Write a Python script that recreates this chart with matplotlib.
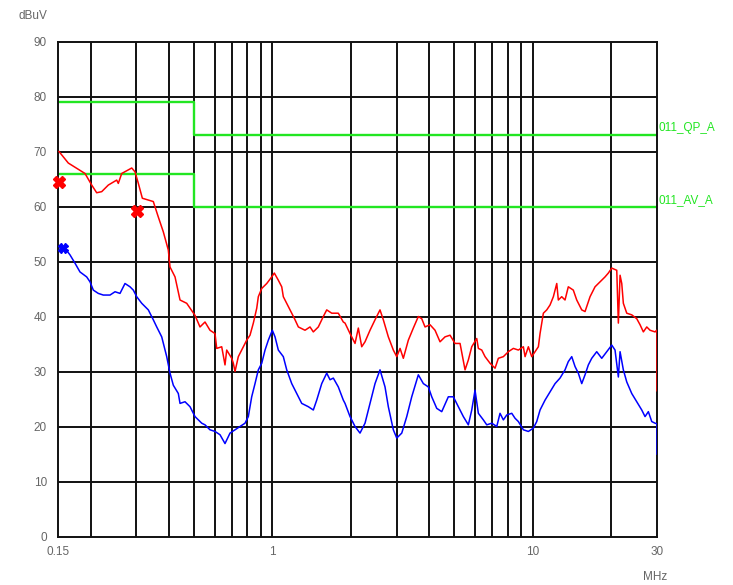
import matplotlib
matplotlib.use('Agg')
import matplotlib.pyplot as plt
from matplotlib.ticker import FixedLocator, NullLocator

plt.rcParams.update({
    'font.family': ['Liberation Sans', 'DejaVu Sans'],
    'font.size': 8.5,
})

# ---------- data (MHz, dBuV) ----------
qp_freq = [0.1513, 0.1643, 0.1905, 0.2021, 0.2112, 0.2208, 0.2341, 0.2521, 0.2557, 0.2635,
           0.2880, 0.2965, 0.3053, 0.3163, 0.3485, 0.3642, 0.3807, 0.3979, 0.4040, 0.4223,
           0.4414, 0.4683, 0.5040, 0.5267, 0.5506, 0.5754, 0.6015, 0.6106, 0.6382, 0.6571,
           0.6671, 0.6972, 0.7073, 0.7179, 0.7392, 0.7617, 0.7962, 0.8198, 0.8442, 0.8700,
           0.8823, 0.9094, 0.9506, 0.9933, 1.0165, 1.0530, 1.0853, 1.1006, 1.1343, 1.1856,
           1.2208, 1.2571, 1.3335, 1.3938, 1.4351, 1.5000, 1.5678, 1.6158, 1.6889, 1.7900,
           1.8711, 1.8998, 1.9856, 2.0754, 2.1369, 2.2020, 2.2671, 2.3697, 2.4770, 2.5887,
           2.6657, 2.7863, 2.9124, 3.0017, 3.0909, 3.1818, 3.3257, 3.4761, 3.6333, 3.7439,
           3.8550, 4.0293, 4.2117, 4.4022, 4.6013, 4.8095, 5.0270, 5.2544, 5.4921, 5.6550,
           5.8275, 6.0909, 6.1785, 6.3663, 6.5550, 6.8514, 7.1613, 7.3739, 7.7075, 8.0559,
           8.4203, 8.8011, 9.1998, 9.3387, 9.6158, 9.9080, 10.202, 10.505, 10.663, 10.980,
           11.314, 11.649, 11.995, 12.361, 12.534, 12.915, 13.298, 13.690, 14.309, 14.749,
           15.417, 15.875, 16.593, 17.342, 18.126, 18.946, 19.509, 20.106, 21.015, 21.314,
           21.639, 21.965, 22.277, 22.959, 23.994, 25.079, 25.824, 26.591, 27.401, 28.214,
           29.489, 29.93, 30.0, 30.0]
qp_level = [70.0, 67.9, 66.0, 63.9, 62.5, 62.7, 63.9, 64.8, 64.2, 66.0,
            67.0, 66.3, 64.2, 61.5, 60.9, 58.1, 55.4, 52.1, 49.0, 47.2,
            43.0, 42.4, 40.2, 38.1, 39.0, 37.5, 36.9, 34.2, 34.5, 31.2,
            33.9, 32.4, 31.5, 30.0, 32.7, 33.9, 35.7, 36.6, 38.8, 41.5,
            43.6, 45.1, 46.0, 47.2, 47.9, 46.6, 45.4, 43.6, 42.4, 40.6,
            39.4, 38.1, 37.5, 38.1, 37.2, 38.1, 40.0, 41.2, 40.6, 40.6,
            39.0, 38.8, 36.9, 35.1, 37.9, 34.5, 35.4, 37.5, 39.4, 41.2,
            39.4, 36.3, 33.9, 32.7, 34.2, 32.4, 35.7, 37.9, 40.0, 39.6,
            38.1, 38.5, 37.5, 35.4, 36.3, 36.6, 35.1, 35.1, 30.3, 32.1,
            34.5, 36.0, 34.2, 33.9, 32.7, 31.5, 30.6, 32.4, 32.7, 33.6,
            34.2, 33.9, 34.5, 32.7, 34.5, 32.7, 33.6, 34.5, 36.9, 40.6,
            41.2, 42.1, 43.6, 46.0, 43.0, 43.6, 43.0, 45.4, 44.8, 43.0,
            41.2, 40.9, 43.6, 45.4, 46.3, 47.2, 47.9, 48.8, 48.4, 38.8,
            47.5, 46.0, 42.4, 40.6, 40.3, 39.6, 38.5, 37.2, 38.1, 37.5,
            37.2, 37.5, 37.5, 26.5]

av_freq = [0.1527, 0.1596, 0.1668, 0.1743, 0.1822, 0.1933, 0.1991, 0.2050, 0.2142, 0.2239,
           0.2376, 0.2484, 0.2596, 0.2713, 0.2836, 0.2920, 0.3009, 0.3146, 0.3335, 0.3485,
           0.3592, 0.3754, 0.3924, 0.4040, 0.4160, 0.4348, 0.4414, 0.4613, 0.4822, 0.5040,
           0.5348, 0.5506, 0.5754, 0.6015, 0.6287, 0.6571, 0.6869, 0.7179, 0.7504, 0.7844,
           0.8076, 0.8321, 0.8569, 0.8823, 0.9094, 0.9363, 0.9640, 0.9986, 1.0228, 1.0530,
           1.1006, 1.1343, 1.1856, 1.2393, 1.2953, 1.3731, 1.4351, 1.4791, 1.5459, 1.6158,
           1.6636, 1.7129, 1.7900, 1.8711, 1.8998, 1.9856, 2.0754, 2.1690, 2.2671, 2.3697,
           2.4770, 2.5887, 2.7060, 2.7863, 2.9124, 3.0017, 3.1376, 3.2793, 3.4272, 3.6333,
           3.7978, 3.9693, 4.0908, 4.2757, 4.4693, 4.7370, 4.9513, 5.1753, 5.4107, 5.6550,
           5.8275, 5.9991, 6.1785, 6.4577, 6.6549, 6.9563, 7.2713, 7.4832, 7.7075, 7.9437,
           8.3018, 8.5460, 8.8011, 9.1998, 9.6158, 10.049, 10.353, 10.663, 11.145, 11.649,
           12.177, 12.722, 13.298, 13.690, 14.112, 14.531, 14.958, 15.417, 15.875, 16.345,
           16.842, 17.602, 18.402, 19.234, 20.106, 20.698, 21.314, 21.639, 22.277, 22.959,
           23.994, 25.079, 26.215, 26.990, 27.792, 28.635, 29.489, 30.0, 30.0]
av_level = [52.4, 52.4, 51.2, 49.7, 48.1, 47.2, 46.3, 44.8, 44.2, 43.9,
            43.9, 44.5, 44.2, 46.0, 45.4, 44.8, 43.6, 42.4, 41.2, 39.4,
            38.1, 36.3, 32.7, 29.7, 27.5, 26.0, 24.2, 24.5, 23.6, 21.8,
            20.6, 20.3, 19.4, 19.1, 18.5, 16.9, 18.8, 19.4, 20.0, 20.6,
            21.8, 25.4, 27.8, 30.3, 31.5, 33.9, 35.7, 37.5, 36.3, 33.9,
            32.7, 30.3, 27.8, 26.0, 24.2, 23.6, 23.0, 24.8, 27.8, 29.7,
            28.5, 28.8, 27.2, 24.8, 24.2, 21.8, 20.0, 18.8, 20.6, 24.2,
            27.8, 30.3, 27.2, 23.6, 19.4, 17.9, 18.8, 21.8, 25.4, 29.4,
            27.8, 27.2, 25.4, 23.3, 22.7, 25.4, 25.4, 23.6, 21.8, 20.3,
            23.0, 26.6, 22.4, 21.2, 20.3, 20.6, 20.0, 22.4, 21.2, 22.1,
            22.4, 21.5, 20.9, 19.4, 19.1, 19.7, 20.9, 23.0, 24.8, 26.3,
            27.8, 28.8, 30.3, 31.8, 32.7, 30.9, 29.7, 27.8, 29.4, 31.2,
            32.4, 33.6, 32.4, 33.6, 34.8, 33.9, 29.0, 33.6, 30.3, 28.1,
            26.0, 24.5, 23.0, 21.8, 22.7, 20.9, 20.6, 20.5, 15.0]

# limit lines
lim_freq = [0.15, 0.5, 0.5, 30.0]
qp_limit = [79, 79, 73, 73]
av_limit = [66, 66, 60, 60]

# peak markers
qp_mark_f = [0.152, 0.301]
qp_mark_v = [64.5, 59.1]
av_mark_f = [0.157]
av_mark_v = [52.5]

x_grid = [0.2, 0.3, 0.4, 0.5, 0.6, 0.7, 0.8, 0.9, 1, 2, 3, 4, 5, 6, 7, 8, 9, 10, 20]
x_ticks = [0.15, 1, 10, 30]
x_labels = ['0.15', '1', '10', '30']
y_ticks = list(range(0, 91, 10))

# ---------- figure ----------
fig = plt.figure(figsize=(7.33, 5.85), dpi=100)
ax = fig.add_axes([58/733, 1 - 536.5/585, 599/733, 495/585])
ax.set_xscale('log')
ax.set_xlim(0.15, 30)
ax.set_ylim(0, 90)

GRID = '#111111'
for f in x_grid:
    ax.axvline(f, color=GRID, lw=1.4, zorder=1)
for v in y_ticks[1:-1]:
    ax.axhline(v, color=GRID, lw=1.4, zorder=1)
for s in ax.spines.values():
    s.set_color(GRID)
    s.set_linewidth(1.4)

GREEN = '#22e622'
ax.plot(lim_freq, qp_limit, color=GREEN, lw=1.7, zorder=2)
ax.plot(lim_freq, av_limit, color=GREEN, lw=1.7, zorder=2)

ax.plot(qp_freq, qp_level, color='#ff0000', lw=1.1, zorder=3)
ax.plot(av_freq, av_level, color='#0000ff', lw=1.1, zorder=3)

ax.plot(qp_mark_f, qp_mark_v, ls='none', marker='X', ms=8, color='#ff0000',
        mec='#ff0000', zorder=4, clip_on=False)
ax.plot(av_mark_f, av_mark_v, ls='none', marker='X', ms=7, color='#0000ff',
        mec='#0000ff', zorder=4, clip_on=False)

# ticks
ax.xaxis.set_major_locator(FixedLocator(x_ticks))
ax.xaxis.set_minor_locator(NullLocator())
ax.set_xticklabels(x_labels)
ax.set_yticks(y_ticks)
ax.tick_params(length=0, colors='#666666', labelsize=8.5)
ax.tick_params(axis='y', pad=8)
ax.tick_params(axis='x', pad=7)

# labels
fig.text(33/733, 1 - 16/585, 'dBuV', color='#666666', fontsize=8.5,
         ha='center', va='center')
fig.text(655/733, 1 - 577/585, 'MHz', color='#666666', fontsize=8.5,
         ha='center', va='center')
ax.text(1.003, 74.2, '011_QP_A', transform=ax.get_yaxis_transform(),
        color=GREEN, fontsize=8.5, ha='left', va='center')
ax.text(1.003, 61.2, '011_AV_A', transform=ax.get_yaxis_transform(),
        color=GREEN, fontsize=8.5, ha='left', va='center')

fig.savefig('out.png', dpi=100, facecolor='white')
